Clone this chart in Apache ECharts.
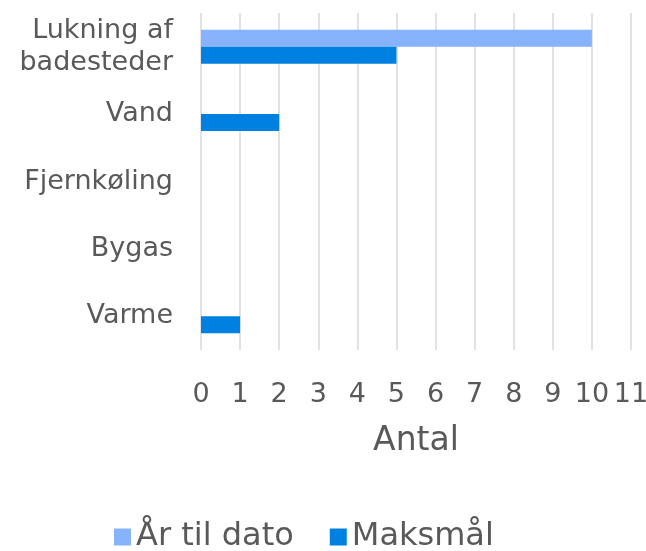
<!DOCTYPE html>
<html>
<head>
<meta charset="utf-8">
<script src="https://cdn.jsdelivr.net/npm/echarts@6/dist/echarts.min.js"></script>
<style>
  html, body { margin: 0; padding: 0; background: #ffffff; }
  #chart { width: 646px; height: 551px; }
</style>
</head>
<body>
<div id="chart"></div>
<script>
// categories, top to bottom as shown
const categories = ["Lukning af\nbadesteder", "Vand", "Fjernkøling", "Bygas", "Varme"];
const aarTilDato = [10, 0, 0, 0, 0];
const maksmaal = [5, 2, 0, 0, 1];

const textColor = "#595959";
const fontName = "DejaVu Sans";

const myChart = echarts.init(document.getElementById("chart"));
myChart.setOption({
  animation: false,
  textStyle: { fontFamily: fontName, color: textColor },
  grid: { left: 201, right: 15, top: 13, bottom: 201, containLabel: false, outerBoundsMode: "none" },
  legend: {
    top: 516,
    left: 109,
    padding: 5,
    itemWidth: 17,
    itemHeight: 17,
    itemGap: 36,
    itemTextGap: 5,
    icon: "rect",
    textStyle: { fontSize: 32, color: textColor, fontFamily: fontName },
    data: ["År til dato", "Maksmål"]
  },
  xAxis: {
    type: "value",
    min: 0,
    max: 11,
    interval: 1,
    name: "Antal",
    nameLocation: "middle",
    nameGap: 75,
    nameTextStyle: { fontSize: 33, color: textColor, fontFamily: fontName },
    axisLine: { show: false },
    axisTick: { show: false },
    axisLabel: { fontSize: 27, color: textColor, margin: 31 },
    splitLine: { show: true, lineStyle: { color: "#d9d9d9", width: 1.5 } }
  },
  yAxis: {
    type: "category",
    inverse: true,
    data: categories,
    axisLine: { show: false },
    axisTick: { show: false },
    axisLabel: { fontSize: 27, color: textColor, margin: 28, lineHeight: 32, padding: [6, 0, 0, 0] }
  },
  series: [
    {
      name: "År til dato",
      type: "bar",
      data: aarTilDato,
      barWidth: 17,
      barGap: "0%",
      itemStyle: { color: "#86b3fb" }
    },
    {
      name: "Maksmål",
      type: "bar",
      data: maksmaal,
      barWidth: 17,
      barGap: "0%",
      itemStyle: { color: "#0080e1" }
    }
  ]
});
</script>
</body>
</html>
